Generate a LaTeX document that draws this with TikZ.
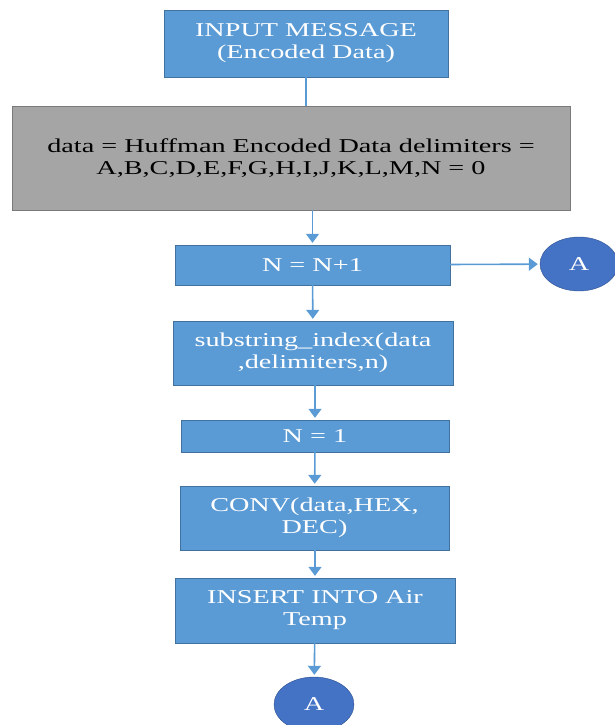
\documentclass[tikz,border=0pt]{standalone}
\usepackage{fontspec}
\setmainfont[FakeStretch=1.44]{Liberation Serif}
\usetikzlibrary{arrows.meta,shapes.geometric}
\definecolor{boxblue}{HTML}{5B9BD5}
\definecolor{boxedge}{HTML}{41719C}
\definecolor{boxgray}{HTML}{A5A5A5}
\definecolor{grayedge}{HTML}{7A7A7A}
\definecolor{conblue}{HTML}{4472C4}
\definecolor{conedge}{HTML}{2F528F}
\begin{document}
\begin{tikzpicture}[x=1pt,y=-1pt,
		txt/.style={font=\fontsize{19.6}{22}\selectfont,inner sep=0pt,align=center},
		blk/.style={txt,draw=boxedge,fill=boxblue,text=white},
		init/.style={txt,draw=grayedge,fill=boxgray,text=black},
		conn/.style={txt,ellipse,draw=conedge,fill=conblue,text=white,minimum width=78,minimum height=54},
		flow/.style={draw=boxblue,line width=1.6pt,-{Triangle[width=13pt,length=9pt]},shorten >=2pt}]
	\useasboundingbox (0,0) rectangle (614,725);
	% boxes
	\node[blk,minimum width=284,minimum height=67] (inmsg) at (306,43.5) {INPUT MESSAGE\\(Encoded Data)};
	\node[init,minimum width=558,minimum height=104] (data) at (291,158) {data = Huffman Encoded Data delimiters =\\A,B,C,D,E,F,G,H,I,J,K,L,M,N = 0};
	\node[blk,minimum width=275,minimum height=40] (incr) at (312.5,265) {N = N+1};
	\node[blk,minimum width=280,minimum height=64] (substr) at (313,353) {substring\_index(data\\,delimiters,n)};
	\node[blk,minimum width=268,minimum height=32] (nset) at (315,436) {N = 1};
	\node[blk,minimum width=269,minimum height=64] (conv) at (314.5,518) {CONV(data,HEX,\\DEC)};
	\node[blk,minimum width=280,minimum height=65] (insert) at (315,610.5) {INSERT INTO Air\\Temp};
	% connectors A
	\node[conn] (outA) at (579,264) {A};
	\node[conn,minimum width=80,minimum height=55] (endA) at (314,704.5) {A};
	% arrows
	\draw[draw=boxblue,line width=1.6pt] (inmsg.south) -- (inmsg.south |- data.north);
	\draw[flow] (data.south -| incr) -- (incr);
	\draw[flow] (incr) -- (outA);
	\draw[flow] (incr) -- (substr);
	\draw[flow] (substr.south -| nset) -- (nset);
	\draw[flow] (nset) -- (conv);
	\draw[flow] (conv.south -| insert) -- (insert);
	\draw[flow] (insert) -- (endA);
\end{tikzpicture}
\end{document}
